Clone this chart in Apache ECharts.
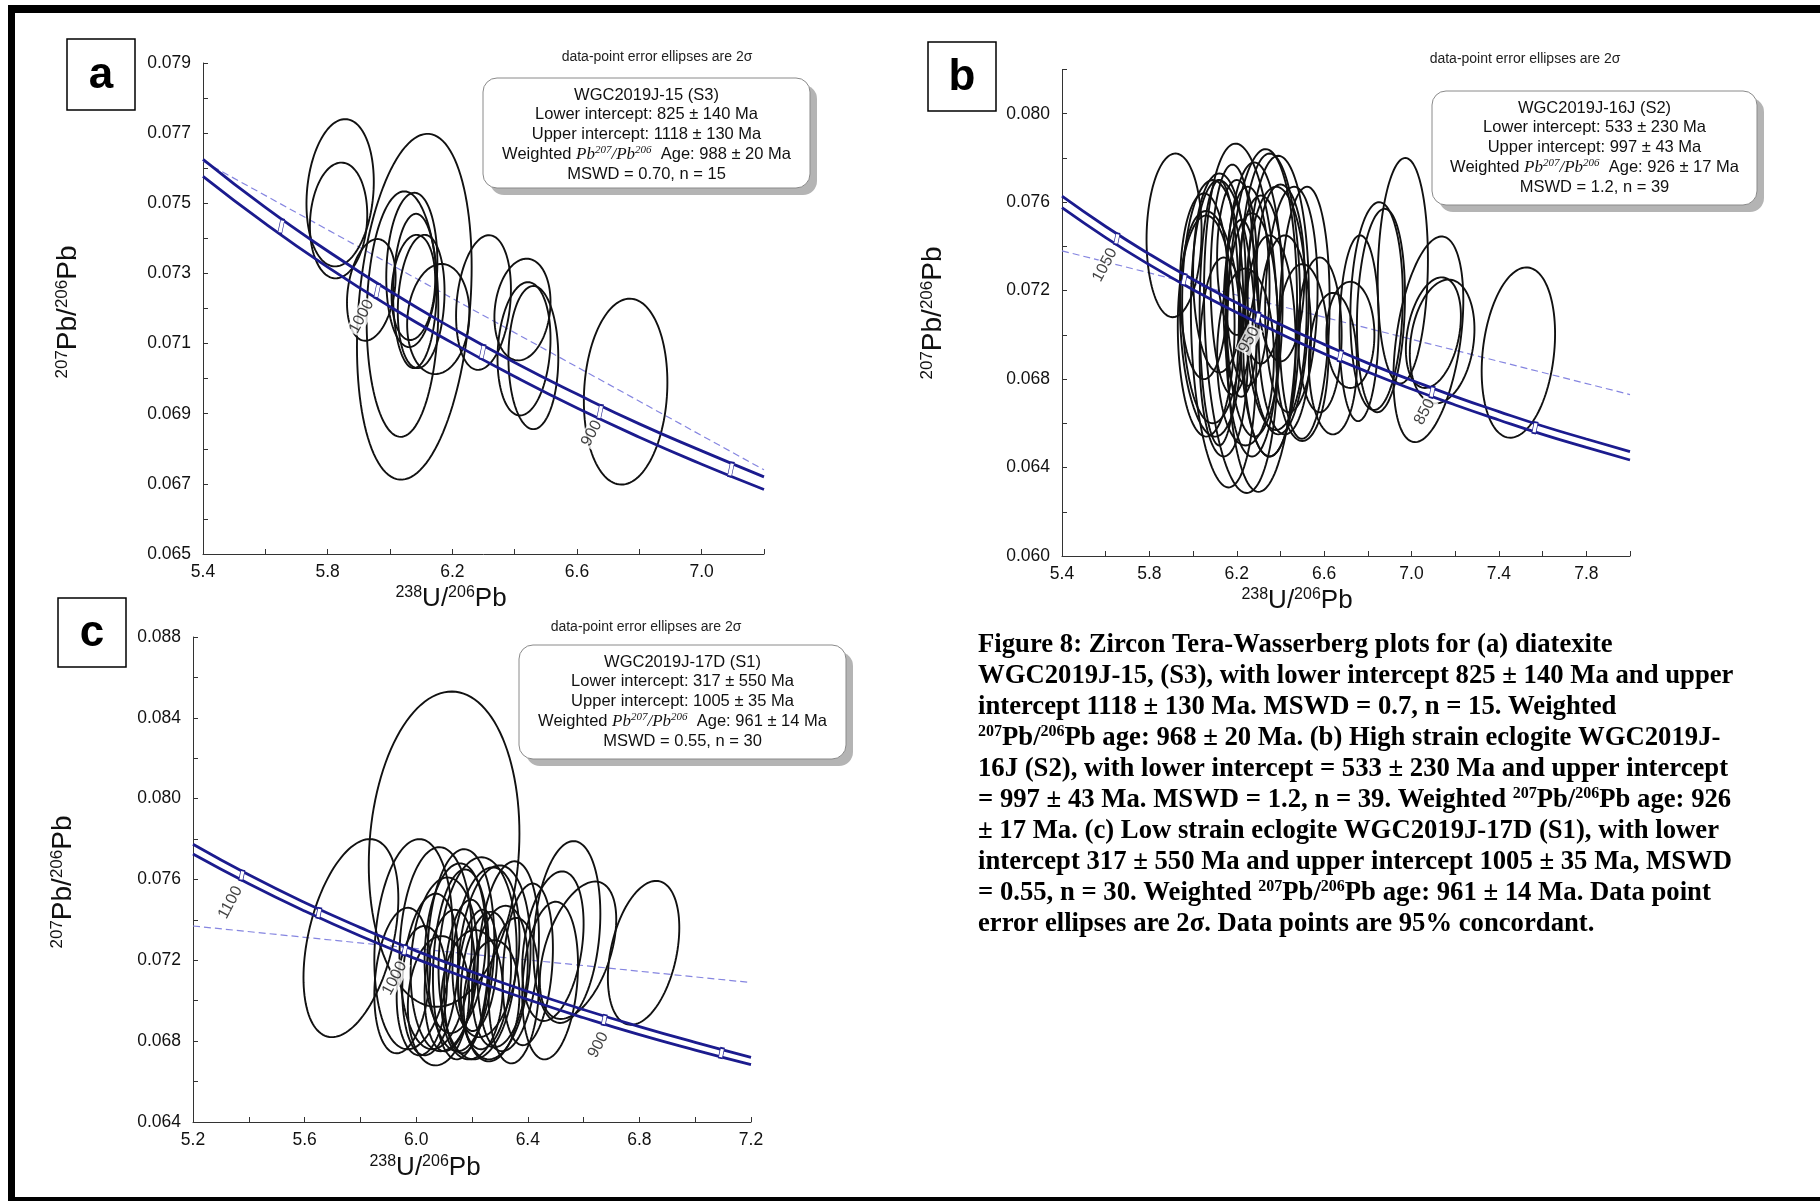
<!DOCTYPE html>
<html>
<head>
<meta charset="utf-8">
<title>Zircon Tera-Wasserberg plots</title>
<script src="https://cdn.jsdelivr.net/npm/echarts@6/dist/echarts.min.js"></script>
<style>
  html, body { margin: 0; padding: 0; background: #fff; }
  #chart { width: 1820px; height: 1201px; }
</style>
</head>
<body>
<div id="chart"></div>
<script>
// ---------- values ----------
// ellipse rows: [centre 238U/206Pb, centre 207Pb/206Pb, half-width x, half-height y, tilt]

// panel a  WGC2019J-15 (S3)
const ellipsesA = [
  [5.840, 0.07530, 0.108, 0.00210, 0.15],
  [5.835, 0.07451, 0.092, 0.00165, 0.10],
  [6.078, 0.07205, 0.184, 0.00493, 0.23],
  [6.040, 0.07184, 0.115, 0.00350, 0.05],
  [6.070, 0.07310, 0.082, 0.00220, 0.10],
  [6.080, 0.07250, 0.070, 0.00220, 0.05],
  [5.940, 0.07253, 0.078, 0.00145, 0.25],
  [6.075, 0.07260, 0.070, 0.00150, 0.15],
  [6.100, 0.07220, 0.075, 0.00190, 0.15],
  [6.155, 0.07170, 0.100, 0.00157, 0.10],
  [6.300, 0.07217, 0.088, 0.00192, 0.20],
  [6.425, 0.07197, 0.090, 0.00145, 0.15],
  [6.430, 0.07085, 0.085, 0.00190, 0.15],
  [6.460, 0.07060, 0.080, 0.00204, 0.00],
  [6.756, 0.06963, 0.134, 0.00265, 0.10]
];
const concXA = [5.4, 5.6, 5.8, 6.0, 6.2, 6.4, 6.6, 6.8, 7.0, 7.2];
const concUpA = [0.07625, 0.07488, 0.07364, 0.07249, 0.07144, 0.07046, 0.06956, 0.06871, 0.06794, 0.06720];
const concLoA = [0.07577, 0.07442, 0.07318, 0.07205, 0.07102, 0.07006, 0.06916, 0.06833, 0.06756, 0.06684];
const regA = [[5.4, 0.0762], [7.2, 0.0674]];
const marksA = [[5.651, 0.07434], [5.959, 0.07250], [6.297, 0.07076], [6.674, 0.06905], [7.094, 0.06741]];
const ageLabelsA = [[5.909, 0.07177, '1000'], [6.647, 0.06844, '900']];
const boxA = ['WGC2019J-15 (S3)', 'Lower intercept: 825 ± 140 Ma', 'Upper intercept: 1118 ± 130 Ma', '988 ± 20 Ma', 'MSWD = 0.70, n = 15'];

// panel b  WGC2019J-16J (S2)
const ellipsesB = [
  [5.913, 0.07450, 0.126, 0.00370, 0.05],
  [7.489, 0.06920, 0.168, 0.00385, 0.22],
  [7.077, 0.06980, 0.160, 0.00465, 0.38],
  [7.100, 0.07010, 0.126, 0.00250, 0.30],
  [7.140, 0.06970, 0.148, 0.00280, 0.20],
  [6.960, 0.07290, 0.115, 0.00510, 0.10],
  [6.840, 0.07130, 0.120, 0.00470, 0.10],
  [6.860, 0.07110, 0.110, 0.00460, 0.15],
  [6.760, 0.07030, 0.090, 0.00420, 0.05],
  [6.720, 0.07000, 0.110, 0.00240, 0.00],
  [6.640, 0.06870, 0.110, 0.00320, 0.00],
  [6.510, 0.07100, 0.115, 0.00570, 0.10],
  [6.220, 0.07075, 0.170, 0.00790, -0.15],
  [6.316, 0.07065, 0.160, 0.00775, 0.10],
  [6.350, 0.07135, 0.140, 0.00685, 0.00],
  [6.390, 0.07180, 0.140, 0.00630, 0.00],
  [6.140, 0.07005, 0.150, 0.00695, -0.15],
  [6.080, 0.07050, 0.140, 0.00510, -0.15],
  [6.120, 0.07280, 0.120, 0.00450, 0.00],
  [6.380, 0.07120, 0.140, 0.00550, 0.00],
  [6.450, 0.07160, 0.120, 0.00510, 0.10],
  [6.090, 0.07150, 0.140, 0.00550, 0.00],
  [6.060, 0.07040, 0.130, 0.00500, 0.00],
  [6.250, 0.07220, 0.100, 0.00450, 0.00],
  [6.200, 0.07350, 0.090, 0.00350, 0.00],
  [6.270, 0.07000, 0.120, 0.00550, 0.00],
  [6.140, 0.06900, 0.110, 0.00450, 0.00],
  [6.350, 0.06950, 0.120, 0.00500, 0.00],
  [6.220, 0.07120, 0.080, 0.00400, 0.00],
  [6.180, 0.07250, 0.100, 0.00520, 0.00],
  [6.420, 0.07000, 0.120, 0.00450, 0.00],
  [6.310, 0.07250, 0.100, 0.00380, 0.00],
  [6.120, 0.07100, 0.090, 0.00600, 0.00],
  [6.240, 0.06900, 0.130, 0.00400, 0.00],
  [6.400, 0.07280, 0.110, 0.00400, 0.00],
  [6.050, 0.07220, 0.110, 0.00420, 0.00],
  [6.280, 0.07160, 0.130, 0.00620, 0.00],
  [6.500, 0.06920, 0.120, 0.00400, 0.00],
  [6.580, 0.07000, 0.100, 0.00350, 0.00]
];
const concXB = [5.4, 5.6, 5.8, 6.0, 6.2, 6.4, 6.6, 6.8, 7.0, 7.2, 7.4, 7.6, 7.8, 8.0];
const concUpB = [0.07627, 0.07490, 0.07365, 0.07250, 0.07145, 0.07047, 0.06957, 0.06872, 0.06795, 0.06721, 0.06653, 0.06588, 0.06529, 0.06472];
const concLoB = [0.07575, 0.07440, 0.07317, 0.07204, 0.07101, 0.07005, 0.06915, 0.06832, 0.06755, 0.06683, 0.06615, 0.06550, 0.06491, 0.06434];
const regB = [[5.4, 0.0738], [8.0, 0.0673]];
const marksB = [[5.651, 0.07434], [5.959, 0.07250], [6.297, 0.07076], [6.674, 0.06905], [7.094, 0.06741], [7.565, 0.06580]];
const ageLabelsB = [[5.597, 0.07316, '1050'], [6.257, 0.06977, '950'], [7.060, 0.06652, '850']];
const boxB = ['WGC2019J-16J (S2)', 'Lower intercept: 533 ± 230 Ma', 'Upper intercept: 997 ± 43 Ma', '926 ± 17 Ma', 'MSWD = 1.2, n = 39'];

// panel c  WGC2019J-17D (S1)
const ellipsesC = [
  [6.100, 0.07750, 0.270, 0.00780, 0.10],
  [5.766, 0.07310, 0.170, 0.00490, 0.40],
  [6.815, 0.07237, 0.128, 0.00356, 0.35],
  [6.540, 0.07340, 0.120, 0.00450, 0.20],
  [6.580, 0.07250, 0.137, 0.00340, 0.45],
  [6.490, 0.07270, 0.110, 0.00370, 0.30],
  [6.480, 0.07100, 0.100, 0.00390, 0.20],
  [5.990, 0.07280, 0.140, 0.00520, 0.15],
  [6.070, 0.07260, 0.130, 0.00500, 0.10],
  [6.160, 0.07250, 0.120, 0.00500, 0.10],
  [6.220, 0.07210, 0.140, 0.00500, 0.10],
  [6.280, 0.07190, 0.130, 0.00480, 0.15],
  [6.330, 0.07220, 0.110, 0.00470, 0.20],
  [6.050, 0.07130, 0.100, 0.00400, 0.20],
  [6.120, 0.07100, 0.090, 0.00350, 0.20],
  [6.180, 0.07120, 0.080, 0.00380, 0.20],
  [6.220, 0.07150, 0.070, 0.00300, 0.25],
  [6.250, 0.07100, 0.090, 0.00340, 0.20],
  [6.300, 0.07120, 0.100, 0.00350, 0.20],
  [6.200, 0.07030, 0.110, 0.00320, 0.10],
  [6.100, 0.07180, 0.120, 0.00430, 0.10],
  [6.350, 0.07050, 0.090, 0.00360, 0.10],
  [6.020, 0.07050, 0.090, 0.00320, 0.10],
  [6.160, 0.07180, 0.100, 0.00470, 0.15],
  [6.270, 0.07000, 0.100, 0.00300, 0.10],
  [6.140, 0.07260, 0.110, 0.00420, 0.15],
  [5.950, 0.07100, 0.100, 0.00360, 0.20],
  [6.250, 0.07240, 0.120, 0.00420, 0.20],
  [6.080, 0.07000, 0.110, 0.00320, 0.10],
  [6.400, 0.07180, 0.090, 0.00400, 0.20]
];
const concXC = [5.2, 5.4, 5.6, 5.8, 6.0, 6.2, 6.4, 6.6, 6.8, 7.0, 7.2];
const concUpC = [0.07774, 0.07623, 0.07486, 0.07362, 0.07247, 0.07143, 0.07046, 0.06956, 0.06872, 0.06794, 0.06720];
const concLoC = [0.07726, 0.07579, 0.07444, 0.07320, 0.07207, 0.07103, 0.07006, 0.06916, 0.06832, 0.06756, 0.06684];
const regC = [[5.2, 0.0737], [7.2, 0.0709]];
const marksC = [[5.375, 0.07620], [5.651, 0.07434], [5.959, 0.07250], [6.674, 0.06905], [7.094, 0.06741]];
const ageLabelsC = [[5.334, 0.07486, '1100'], [5.923, 0.07111, '1000'], [6.653, 0.06781, '900']];
const boxC = ['WGC2019J-17D (S1)', 'Lower intercept: 317 ± 550 Ma', 'Upper intercept: 1005 ± 35 Ma', '961 ± 14 Ma', 'MSWD = 0.55, n = 30'];

const captionLines = [
  'Figure 8: Zircon Tera-Wasserberg plots for (a) diatexite',
  'WGC2019J-15, (S3), with lower intercept 825 ± 140 Ma and upper',
  'intercept 1118 ± 130 Ma. MSWD = 0.7, n = 15. Weighted',
  '{s|207}{b|Pb/}{s|206}{b|Pb age: 968 ± 20 Ma. (b) High strain eclogite WGC2019J-}',
  '16J (S2), with lower intercept = 533 ± 230 Ma and upper intercept',
  '{b|= 997 ± 43 Ma. MSWD = 1.2, n = 39. Weighted }{s|207}{b|Pb/}{s|206}{b|Pb age: 926}',
  '± 17 Ma. (c) Low strain eclogite WGC2019J-17D (S1), with lower',
  'intercept 317 ± 550 Ma and upper intercept 1005 ± 35 Ma, MSWD',
  '{b|= 0.55, n = 30. Weighted }{s|207}{b|Pb/}{s|206}{b|Pb age: 961 ± 14 Ma. Data point}',
  'error ellipses are 2σ. Data points are 95% concordant.'
];

// ---------- styling ----------
const SANS = '"Liberation Sans", Arial, sans-serif';
const SERIF = '"Liberation Serif", "Times New Roman", serif';
const AXIS_C = '#333';
const CONC_C = '#1b1b8e';
const REG_C = '#8585e0';

const grids = [
  { left: 203, top: 63, width: 561, height: 491 },
  { left: 1062, top: 69.5, width: 568, height: 486.5 },
  { left: 193, top: 637, width: 558, height: 485 }
];

function xAxisOf(gi, min, max) {
  return {
    type: 'value', gridIndex: gi, min: min, max: max, interval: 0.2,
    axisLine: { onZero: false, lineStyle: { color: AXIS_C, width: 1 } },
    axisTick: { inside: true, length: 5, lineStyle: { color: AXIS_C } },
    splitLine: { show: false },
    axisLabel: {
      margin: 9, fontFamily: SANS, fontSize: 17.5, color: '#111',
      formatter: v => (Math.round((v - min) / 0.2) % 2 === 0 ? v.toFixed(1) : '')
    }
  };
}

function yAxisOf(gi, min, max, step) {
  return {
    type: 'value', gridIndex: gi, min: min, max: max, interval: step,
    axisLine: { onZero: false, lineStyle: { color: AXIS_C, width: 1 } },
    axisTick: { inside: true, length: 5, lineStyle: { color: AXIS_C } },
    splitLine: { show: false },
    axisLabel: {
      margin: 12, fontFamily: SANS, fontSize: 17.5, color: '#111',
      formatter: v => (Math.round((v - min) / step) % 2 === 0 ? v.toFixed(3) : '')
    }
  };
}

function ellipseSeries(gi, rows) {
  return {
    type: 'custom', xAxisIndex: gi, yAxisIndex: gi, data: rows, z: 3, silent: true,
    encode: { x: 0, y: 1 },
    renderItem: function (params, api) {
      const cx = api.value(0), cy = api.value(1), sx = api.value(2), sy = api.value(3), rho = api.value(4);
      const k = Math.sqrt(1 - rho * rho);
      const pts = [];
      for (let i = 0; i < 120; i++) {
        const t = i / 120 * Math.PI * 2;
        pts.push(api.coord([cx + sx * Math.cos(t), cy + sy * (rho * Math.cos(t) + k * Math.sin(t))]));
      }
      return { type: 'polygon', shape: { points: pts }, style: { fill: 'none', stroke: '#111', lineWidth: 1.9 } };
    }
  };
}

function concSeries(gi, xs, ys) {
  return {
    type: 'line', xAxisIndex: gi, yAxisIndex: gi, smooth: true, symbol: 'none', silent: true, z: 4,
    data: xs.map((x, i) => [x, ys[i]]),
    lineStyle: { color: CONC_C, width: 2.8 }
  };
}

function regSeries(gi, pts) {
  return {
    type: 'line', xAxisIndex: gi, yAxisIndex: gi, symbol: 'none', silent: true, z: 2,
    data: pts, lineStyle: { color: REG_C, width: 1.2, type: [7, 4] }
  };
}

function markSeries(gi, pts, h) {
  return {
    type: 'scatter', xAxisIndex: gi, yAxisIndex: gi, silent: true, z: 5,
    data: pts, symbol: 'rect', symbolSize: [4, h], symbolRotate: -12,
    itemStyle: { color: '#fff', borderColor: CONC_C, borderWidth: 1.1, opacity: 1 }
  };
}

function ageLabelSeries(gi, pts) {
  return {
    type: 'scatter', xAxisIndex: gi, yAxisIndex: gi, silent: true, z: 6,
    data: pts, symbolSize: 1, itemStyle: { color: 'rgba(0,0,0,0)' },
    label: {
      show: true, position: 'inside', formatter: p => p.data[2], rotate: 62,
      fontFamily: SANS, fontSize: 16, color: '#111', backgroundColor: '#fff', padding: [0, 1]
    }
  };
}

// ---------- graphic helpers ----------
function txt(x, y, text, font, extra) {
  return {
    type: 'text', x: x, y: y, z: 100, silent: true,
    style: Object.assign({ text: text, font: font, fill: '#111', align: 'center', verticalAlign: 'middle' }, extra || {})
  };
}

function letterBox(x, y, w, h, letter) {
  return [
    { type: 'rect', z: 100, silent: true, shape: { x: x, y: y, width: w, height: h },
      style: { fill: '#fff', stroke: '#000', lineWidth: 1.5 } },
    txt(x + w / 2, y + h / 2 + 1, letter, 'bold 44px ' + SANS, { fill: '#000' })
  ];
}

function infoBox(x, y, w, h, lines, headerX, headerY) {
  const cx = x + w / 2;
  const els = [
    txt(headerX, headerY, 'data-point error ellipses are 2σ', '14px ' + SANS, { fill: '#222' }),
    { type: 'rect', z: 99, silent: true, shape: { x: x + 7, y: y + 7, width: w, height: h, r: 14 },
      style: { fill: '#b4b4b4' } },
    { type: 'rect', z: 100, silent: true, shape: { x: x, y: y, width: w, height: h, r: 14 },
      style: { fill: '#fff', stroke: '#8a8a8a', lineWidth: 1 } }
  ];
  const font = '16.5px ' + SANS;
  [0, 1, 2].forEach(i => els.push(txt(cx, y + 17 + 19.75 * i, lines[i], font)));
  els.push({
    type: 'text', x: cx, y: y + 17 + 19.75 * 3, z: 101, silent: true,
    style: {
      text: '{n|Weighted }{m|Pb}{s|207}{m|/Pb}{s|206}{n|  Age: ' + lines[3] + '}',
      align: 'center', verticalAlign: 'middle',
      rich: {
        n: { font: font, fill: '#111', lineHeight: 20 },
        m: { font: 'italic 17px ' + SERIF, fill: '#111', lineHeight: 20 },
        s: { font: 'italic 11px ' + SERIF, fill: '#111', lineHeight: 13, verticalAlign: 'top' }
      }
    }
  });
  els.push(txt(cx, y + 17 + 19.75 * 4, lines[4], font));
  return els;
}

function axisName(x, y, iso, rotate) {
  return {
    type: 'text', x: x, y: y, rotation: rotate ? Math.PI / 2 : 0, z: 100, silent: true,
    style: {
      text: '{s|' + iso + '}{b|' + (iso === '238' ? 'U/' : 'Pb/') + '}{s|206}{b|Pb}',
      align: 'center', verticalAlign: 'middle',
      rich: {
        b: { font: (rotate ? 28 : 26) + 'px ' + SANS, fill: '#111', lineHeight: 28 },
        s: { font: (rotate ? 17 : 16) + 'px ' + SANS, fill: '#111', lineHeight: 18, verticalAlign: 'top' }
      }
    }
  };
}

const graphics = [];
// outer frame
graphics.push({ type: 'rect', z: 100, silent: true, shape: { x: 8, y: 5, width: 1812, height: 8 }, style: { fill: '#000' } });
graphics.push({ type: 'rect', z: 100, silent: true, shape: { x: 8, y: 5, width: 7, height: 1196 }, style: { fill: '#000' } });
graphics.push({ type: 'rect', z: 100, silent: true, shape: { x: 8, y: 1197, width: 1812, height: 4 }, style: { fill: '#000' } });

graphics.push(...letterBox(67, 39, 68, 71, 'a'));
graphics.push(...letterBox(928, 42, 68, 69, 'b'));
graphics.push(...letterBox(58, 598, 68, 69, 'c'));

graphics.push(...infoBox(483, 78, 327, 110, boxA, 657, 57));
graphics.push(...infoBox(1432, 91, 325, 114, boxB, 1525, 59));
graphics.push(...infoBox(519, 645, 327, 114, boxC, 646, 627));

graphics.push(axisName(68, 312, '207', true));
graphics.push(axisName(451, 599, '238', false));
graphics.push(axisName(933, 313, '207', true));
graphics.push(axisName(1297, 601, '238', false));
graphics.push(axisName(63, 882, '207', true));
graphics.push(axisName(425, 1168, '238', false));

captionLines.forEach((line, i) => {
  const rich = line.indexOf('{') === 0;
  graphics.push({
    type: 'text', x: 978, y: 645 + 31 * i, z: 100, silent: true,
    style: rich ? {
      text: line, align: 'left', verticalAlign: 'middle',
      rich: {
        b: { font: 'bold 26.7px ' + SERIF, fill: '#000', lineHeight: 28 },
        s: { font: 'bold 16px ' + SERIF, fill: '#000', lineHeight: 17, verticalAlign: 'top' }
      }
    } : { text: line, font: 'bold 26.7px ' + SERIF, fill: '#000', align: 'left', verticalAlign: 'middle' }
  });
});

const chart = echarts.init(document.getElementById('chart'), null, { renderer: 'canvas' });
chart.setOption({
  animation: false,
  backgroundColor: '#fff',
  grid: grids,
  xAxis: [xAxisOf(0, 5.4, 7.2), xAxisOf(1, 5.4, 8.0), xAxisOf(2, 5.2, 7.2)],
  yAxis: [yAxisOf(0, 0.065, 0.079, 0.001), yAxisOf(1, 0.060, 0.082, 0.002), yAxisOf(2, 0.064, 0.088, 0.002)],
  series: [
    regSeries(0, regA), ellipseSeries(0, ellipsesA),
    concSeries(0, concXA, concUpA), concSeries(0, concXA, concLoA),
    markSeries(0, marksA, 14), ageLabelSeries(0, ageLabelsA),

    regSeries(1, regB), ellipseSeries(1, ellipsesB),
    concSeries(1, concXB, concUpB), concSeries(1, concXB, concLoB),
    markSeries(1, marksB, 11), ageLabelSeries(1, ageLabelsB),

    regSeries(2, regC), ellipseSeries(2, ellipsesC),
    concSeries(2, concXC, concUpC), concSeries(2, concXC, concLoC),
    markSeries(2, marksC, 10), ageLabelSeries(2, ageLabelsC)
  ],
  graphic: { elements: graphics }
});
</script>
</body>
</html>
